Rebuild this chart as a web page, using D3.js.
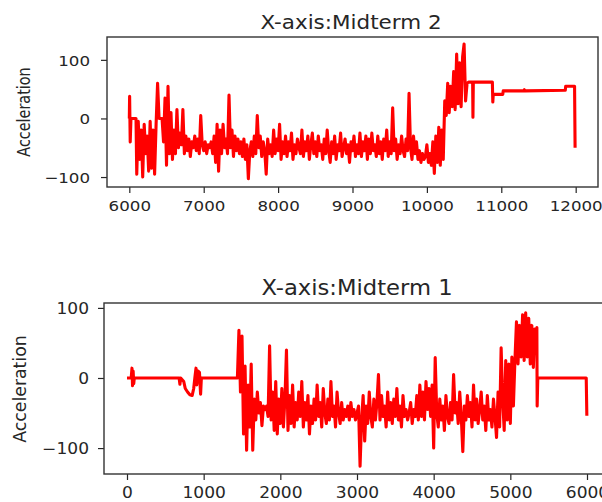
<!DOCTYPE html>
<html>
<head>
<meta charset="utf-8">
<script src="https://cdn.jsdelivr.net/npm/d3@7"></script>
<style>
  body { margin: 0; background: #fff; }
  svg text { font-family: "DejaVu Sans", sans-serif; fill: #262626; }
</style>
</head>
<body>
<div id="grafico"></div>
<script>
// ---- Midterm 2 (arriba) ----
var m2Head = [[6000, 0], [6004, 38], [6012, -40], [6022, 0], [6090, 0]];
var m2NoiseStart = 6100;
var m2NoiseStep = 20;
var m2Noise = [
  -95, -5, -70, -20, -100, -10, -60, -30, -90, -5,
  -85, -20, -95, -10, 60, 0, 0, 0, -40, 35,
  -80, 55, -60, 10, -70, -20, -60, 15, -50, -25,
  -45, 15, -60, -30, -55, -35, -65, -40, -50, -30,
  -55, -35, -60, 5, -45, -55, -40, -60, -45, -50,
  -40, -60, -30, -75, -10, -90, -20, -60, -10, -50,
  -35, -60, 40, -50, -20, -65, -30, -55, -35, -60,
  -40, -65, -35, -70, -45, -103, -55, -40, -65, -30,
  -60, 5, -50, -30, -65, -40, -55, -95, -35, -60,
  -45, -65, -20, -60, -35, -55, -10, -70, -40, -60,
  -30, -65, -40, -55, -25, -70, -45, -60, -35, -50,
  -60, -20, -65, -40, -55, -30, -70, -45, -25, -60,
  -40, -65, -30, -55, -45, -70, -35, -60, -20, -55,
  -75, -40, -60, -30, -70, -45, -55, -25, -65, -50,
  -35, -60, -45, -75, -40, -55, -30, -65, -45, -60,
  -25, -65, -40, -55, -30, -70, -35, -60, -25, -55,
  -45, -65, -30, -60, -40, -70, -35, -55, -20, -65,
  -40, -60, 18, -55, -35, -70, -45, -60, -30, -55,
  -65, -35, -55, 43, -50, -70, -30, -60, -40, -70,
  -55, -75, -60, -70, -65, -45, -75, -60, -80, -40,
  -94, -30, -75, -15, -80, -20, -70, 30, 5, 60,
  10, 55, 20, 80, 15, 110, 25, 95, 20, 105,
  127, 30, 60
];
var m2Tail = [[10560, 62], [10615, 62], [10619, 2], [10624, 62], [10880, 62], [10886, 28], [10892, 41],
  [11020, 41], [11026, 47], [11300, 47], [11310, 49], [11320, 47], [11860, 48], [11866, 55],
  [11985, 55], [11992, -50]];
var m2XTicks = [6000, 7000, 8000, 9000, 10000, 11000, 12000];
var m2YTicks = [-100, 0, 100];

// ---- Midterm 1 (abajo) ----
var m1Head = [[0, 0], [55, 0], [65, 14], [72, -11], [80, 10], [88, -8], [95, 0], [680, 0], [690, -9],
  [700, 0], [740, -5], [760, -15], [790, -20], [820, -24], [850, -25], [870, -15], [885, 0],
  [900, 14], [910, -10], [925, 10], [945, 8], [960, -23], [970, 0], [1440, 0]];
var m1NoiseStart = 1460;
var m1NoiseStep = 20;
var m1Noise = [
  68, -20, 60, -80, 17, -103, -10, -70, 20, -103,
  -30, -60, -20, -50, -35, -68, -40, -45, -40, -55,
  46, -60, -20, -75, -5, -80, -30, -65, -15, -70,
  -30, 40, -75, -25, -65, -10, -70, -35, -60, -20,
  -55, -5, -70, -35, -60, -25, -80, -40, -65, -30,
  -60, -10, -55, -35, -70, -15, -50, -65, -30, -60,
  -5, -55, -40, -70, -20, -50, -65, -35, -60, -45,
  -55, -40, -60, -35, -55, -45, -60, -50, -40, -126,
  -60, -25, -90, -40, -65, -20, -55, -70, -30, -60,
  -35, 5, -60, -25, -55, -40, -70, -20, -60, -35,
  -65, -30, -55, -15, -60, -40, -70, -25, -55, -45,
  -60, -50, -35, -65, -45, -55, -25, -60, -10, -55,
  -20, -60, -5, -45, -15, -55, -10, -100, 29, -50,
  -70, -30, -60, -40, -75, -25, -55, -65, -35, -60,
  5, -50, -35, -65, -20, -55, -105, -40, -60, -25,
  -55, -35, -70, -10, -60, -30, -65, -45, -20, -60,
  -40, -75, -25, -60, -45, -70, -30, -55, -85, -20,
  -70, 43, -30, -75, 25, -60, 20, -65, 30, -40,
  25, 80, 20, 75, 30, 90, 25, 93, 30, 85,
  20, 75, 15, 70, 35
];
var m1Tail = [[5346, 72], [5350, -40], [5358, 0], [5990, 0], [5998, -54]];
var m1XTicks = [0, 1000, 2000, 3000, 4000, 5000, 6000];
var m1YTicks = [-100, 0, 100];

// arma la serie completa: cabeza + tramo ruidoso + cola
function serie(head, start, step, noise, tail) {
  var pts = head.slice();
  for (var i = 0; i < noise.length; i++) {
    pts.push([start + i * step, noise[i]]);
  }
  return pts.concat(tail);
}

var svg = d3.select('#grafico').append('svg')
  .attr('width', 602)
  .attr('height', 502);

function panel(svg, props) {
  var x = d3.scaleLinear().domain(props.xDomain).range([props.left, props.right]);
  var y = d3.scaleLinear().domain(props.yDomain).range([props.bottom, props.top]);
  var g = svg.append('g').style('color', '#262626');

  // linea de datos
  var linea = d3.line().x(d => x(d[0])).y(d => y(d[1]));
  g.append('path')
    .datum(props.data)
    .attr('d', linea)
    .attr('fill', 'none')
    .attr('stroke', '#ff0000')
    .attr('stroke-width', 3.1)
    .attr('stroke-linejoin', 'round');

  // eje X
  var xg = g.append('g')
    .attr('transform', 'translate(0,' + props.bottom + ')')
    .call(d3.axisBottom(x).tickValues(props.xTicks).tickSize(6).tickFormat(d3.format('d')));
  xg.select('.domain').remove();
  xg.selectAll('line').attr('stroke-width', 1.2);
  xg.selectAll('text')
    .attr('y', 0).attr('dy', 0)
    .attr('transform', 'translate(0,' + props.xLabelOff + ') scale(' + props.sx + ',1)')
    .style('font-size', props.tickFont + 'px');

  // eje Y
  var yg = g.append('g')
    .attr('transform', 'translate(' + props.left + ',0)')
    .call(d3.axisLeft(y).tickValues(props.yTicks).tickSize(6));
  yg.select('.domain').remove();
  yg.selectAll('line').attr('stroke-width', 1.2);
  yg.selectAll('text')
    .attr('x', 0).attr('dy', '0.36em')
    .attr('transform', 'translate(' + (-props.yLabelGap) + ',0) scale(' + props.sx + ',1)')
    .style('font-size', props.tickFont + 'px');

  // marco
  g.append('rect')
    .attr('x', props.left)
    .attr('y', props.top)
    .attr('width', props.right - props.left)
    .attr('height', props.bottom - props.top)
    .attr('fill', 'none')
    .attr('stroke', '#333')
    .attr('stroke-width', 1.4);

  // titulo
  g.append('text')
    .attr('text-anchor', 'middle')
    .attr('transform', 'translate(' + props.titleX + ',' + props.titleY + ') scale(' + props.titleSx + ',1)')
    .style('font-size', props.titleFont + 'px')
    .text(props.title);

  // etiqueta eje Y
  g.append('text')
    .attr('text-anchor', 'middle')
    .attr('transform', 'translate(' + props.ylabX + ',' + props.ylabY + ') scale(' + props.ylabSx + ',1) rotate(-90)')
    .style('font-size', props.ylabFont + 'px')
    .text('Acceleration');
}

panel(svg, {
  data: serie(m2Head, m2NoiseStart, m2NoiseStep, m2Noise, m2Tail),
  xDomain: [5700, 12300], yDomain: [-117, 139],
  left: 107, right: 598, top: 37, bottom: 187,
  xTicks: m2XTicks, yTicks: m2YTicks,
  tickFont: 14.5, sx: 1.15, xLabelOff: 24, yLabelGap: 17,
  title: 'X-axis:Midterm 2', titleX: 351, titleY: 29, titleFont: 19, titleSx: 1.13,
  ylabX: 30, ylabY: 112, ylabFont: 14.4, ylabSx: 1.18
});

panel(svg, {
  data: serie(m1Head, m1NoiseStart, m1NoiseStep, m1Noise, m1Tail),
  xDomain: [-300, 6300], yDomain: [-137, 107],
  left: 104, right: 610, top: 303, bottom: 474,
  xTicks: m1XTicks, yTicks: m1YTicks,
  tickFont: 15.5, sx: 1.1, xLabelOff: 24, yLabelGap: 15,
  title: 'X-axis:Midterm 1', titleX: 357, titleY: 295, titleFont: 22, titleSx: 1.03,
  ylabX: 26, ylabY: 389, ylabFont: 17.3, ylabSx: 1.07
});
</script>
</body>
</html>
